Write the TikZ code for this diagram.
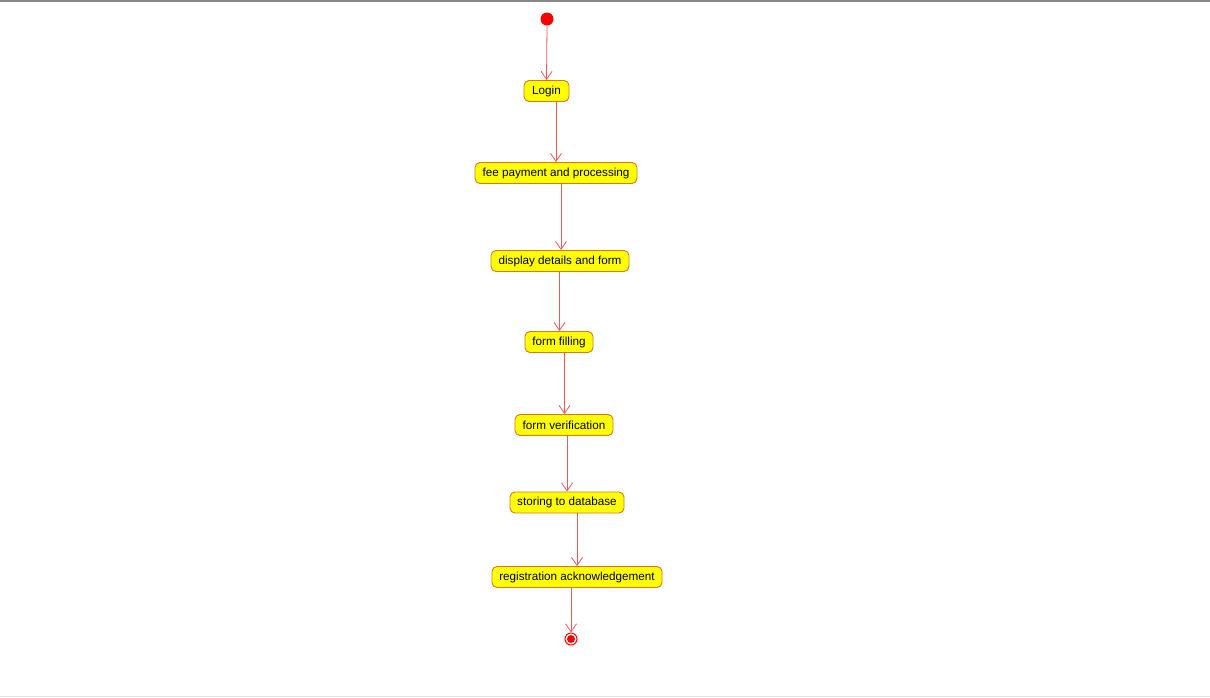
\documentclass[tikz,border=0pt]{standalone}
\usepackage{fontspec}
\setmainfont{Liberation Sans}
\usetikzlibrary{arrows.meta}
\definecolor{actfill}{RGB}{255,255,0}
\definecolor{actborder}{RGB}{215,120,35}
\definecolor{flow}{RGB}{238,90,90}
\definecolor{dotred}{RGB}{250,0,0}
\tikzset{
  activity/.style={draw=actborder, fill=actfill, rounded corners=5pt, line width=0.9pt,
    minimum height=21pt, inner xsep=0pt, inner ysep=0pt, font=\fontsize{11.7}{14}\selectfont, text=black},
  flowline/.style={draw=flow, line width=0.8pt, -{Straight Barb[length=8pt,width=11pt,line width=0.8pt]}},
}
\begin{document}
\begin{tikzpicture}[x=1pt,y=-1pt]
  \useasboundingbox (0,0) rectangle (1210,697);
  \fill[white] (0,0) rectangle (1210,697);
  % window frame lines
  \draw[line width=2pt, draw={rgb,255:red,135;green,135;blue,135}] (0,1) -- (1210,1);
  \draw[line width=1pt, draw={rgb,255:red,225;green,225;blue,225}] (0,696.5) -- (1210,696.5);

  % initial and final states
  \node[circle, fill=dotred, minimum size=13pt, inner sep=0pt] (start) at (547,19) {};
  \node[circle, draw=dotred, fill=white, line width=1pt, minimum size=12pt, inner sep=0pt] (stop) at (571,639) {};
  \fill[dotred] (stop.center) circle (4pt);

  % activities
  \node[activity, minimum width=45pt]  (login)  at (546.5,91)   {Login};
  \node[activity, minimum width=162pt] (fee)    at (556,173)    {fee payment and processing};
  \node[activity, minimum width=138pt] (disp)   at (560,261)    {display details and form};
  \node[activity, minimum width=68pt]  (fill)   at (559,342)    {form filling};
  \node[activity, minimum width=98pt]  (verify) at (564,425)    {form verification};
  \node[activity, minimum width=114pt] (store)  at (567,502.5)  {storing to database};
  \node[activity, minimum width=170pt] (ack)    at (577,577)    {registration acknowledgement};

  % control flow
  \draw[flowline] (start.south) -- (login.north);
  \draw[flowline] (login.south -| 556,0) -- (fee.north -| 556,0);
  \draw[flowline] (fee.south -| 561,0) -- (disp.north -| 561,0);
  \draw[flowline] (disp.south -| 559.5,0) -- (fill.north -| 559.5,0);
  \draw[flowline] (fill.south -| 564.5,0) -- (verify.north -| 564.5,0);
  \draw[flowline] (verify.south -| 567,0) -- (store.north -| 567,0);
  \draw[flowline] (store.south -| 577,0) -- (ack.north -| 577,0);
  \draw[flowline] (ack.south -| 571,0) -- (stop.north);
\end{tikzpicture}
\end{document}
